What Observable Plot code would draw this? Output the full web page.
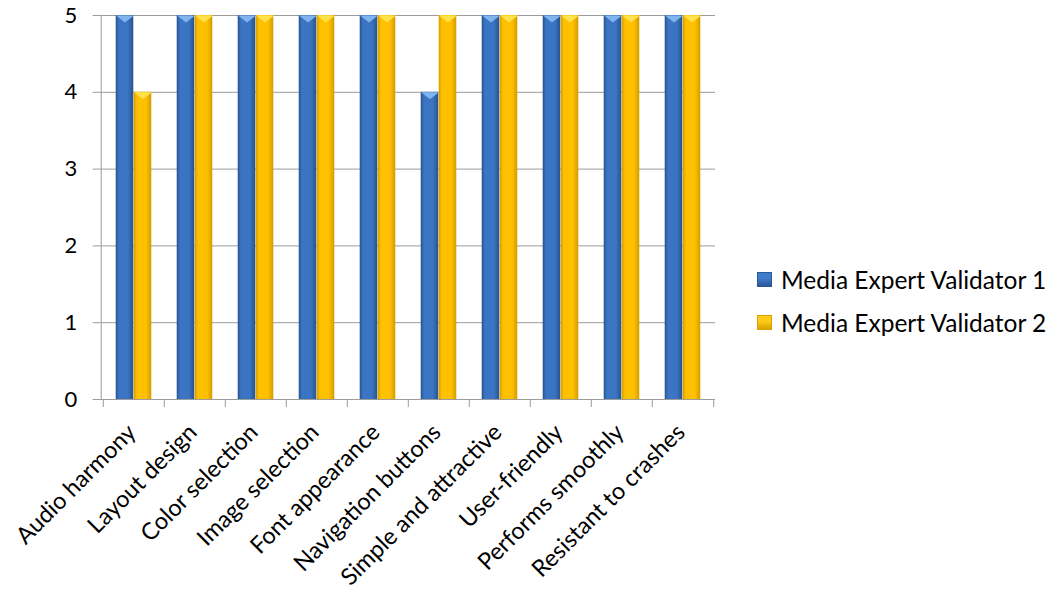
<!DOCTYPE html>
<html><head><meta charset="utf-8">
<script src="https://cdn.jsdelivr.net/npm/d3@7"></script>
<script src="https://cdn.jsdelivr.net/npm/@observablehq/plot@0.6"></script>
<style>
body{margin:0;background:#fff;font-family:Lato, "Open Sans", sans-serif;}
#wrap{position:relative;width:1055px;height:595px;}
#legend{position:absolute;left:757px;top:258px;font-size:24.5px;color:#000;font-family:Lato, sans-serif;}
.item{display:flex;align-items:center;height:43px;white-space:nowrap;}
.sw{width:15px;height:15px;margin-right:9px;box-sizing:border-box;}
</style></head><body>
<div id="wrap"><div id="chart"></div><div id="legend"></div></div>
<script>
const categories = ["Audio harmony","Layout design","Color selection","Image selection","Font appearance","Navigation buttons","Simple and attractive","User-friendly","Performs smoothly","Resistant to crashes"];
const seriesNames = ["Media Expert Validator 1","Media Expert Validator 2"];
const validator1 = [5,5,5,5,5,4,5,5,5,5];
const validator2 = [4,5,5,5,5,5,5,5,5,5];
const yTicks = [0,1,2,3,4,5];

const rows1 = categories.map((c,i)=>({category:c, series:seriesNames[0], value:validator1[i]}));
const rows2 = categories.map((c,i)=>({category:c, series:seriesNames[1], value:validator2[i]}));

const W=1055, H=595, mL=100.7, mR=340, mT=15, mB=196;
const bw=(W-mL-mR)/categories.length, barW=18, gap=(bw-2*barW)/2;
const gridCol="#9c9c9c";
const capSymbol = {draw(ctx){ctx.moveTo(-barW/2,0);ctx.lineTo(barW/2,0);ctx.lineTo(0,7);ctx.closePath();}};

const chart = Plot.plot({
  width:W, height:H, marginLeft:mL, marginRight:mR, marginTop:mT, marginBottom:mB,
  style:{fontFamily:"Lato, sans-serif", fontSize:"20px", color:"#000", background:"#fff", overflow:"visible"},
  x:{domain:categories, padding:0, label:null},
  y:{domain:[0,5], label:null},
  marks:[
    Plot.gridY(yTicks,{stroke:gridCol, strokeOpacity:1}),
    Plot.barY(rows1,{x:"category", y:"value", fill:"url(#g1)", insetLeft:gap, insetRight:bw/2}),
    Plot.barY(rows2,{x:"category", y:"value", fill:"url(#g2)", insetLeft:bw/2, insetRight:gap}),
    Plot.dot(rows1,{x:"category", y:"value", symbol:capSymbol, fill:"#7fb4ee", stroke:null, dx:-barW/2}),
    Plot.dot(rows2,{x:"category", y:"value", symbol:capSymbol, fill:"#ffe14a", stroke:null, dx:barW/2}),
    Plot.ruleY([0],{stroke:gridCol}),
    Plot.frame({anchor:"left", stroke:gridCol}),
    Plot.axisY({ticks:yTicks, tickFormat:"d", tickSize:8, tickPadding:16, stroke:gridCol, fill:"#000", fontSize:22, label:null}),
    Plot.axisX({tickSize:8, dx:-bw/2, text:null, stroke:gridCol, label:null}),
    Plot.axisX([categories[categories.length-1]],{tickSize:8, dx:bw/2, text:null, stroke:gridCol, label:null}),
    Plot.axisX({tickSize:0, tickRotate:-45, tickPadding:29, dx:-2, fontSize:23.5, fill:"#000", label:null})
  ]
});

const svg = d3.select(chart);
const defs = svg.insert("defs", ":first-child");
function grad(id, edge, mid){
  const g = defs.append("linearGradient").attr("id", id).attr("x1",0).attr("x2",1).attr("y1",0).attr("y2",0);
  [[0,edge],[0.18,mid],[0.7,mid],[1,edge]].forEach(([o,c])=>g.append("stop").attr("offset",o).attr("stop-color",c));
}
grad("g1","#28528c","#3b74c2");
grad("g2","#d29c00","#ffc000");
document.getElementById("chart").appendChild(chart);

const legend = document.getElementById("legend");
const swCols = [["#2b5896","#3f7ccb"],["#d9a200","#ffcb1a"]];
seriesNames.forEach((s,i)=>{
  const it = document.createElement("div"); it.className="item";
  const sw = document.createElement("div"); sw.className="sw";
  sw.style.background = `linear-gradient(180deg, ${swCols[i][1]} 0%, ${swCols[i][1]} 40%, ${swCols[i][0]} 100%)`;
  sw.style.border = `1px solid ${swCols[i][0]}`;
  const tx = document.createElement("span"); tx.textContent = s;
  it.appendChild(sw); it.appendChild(tx); legend.appendChild(it);
});
</script>
</body></html>
